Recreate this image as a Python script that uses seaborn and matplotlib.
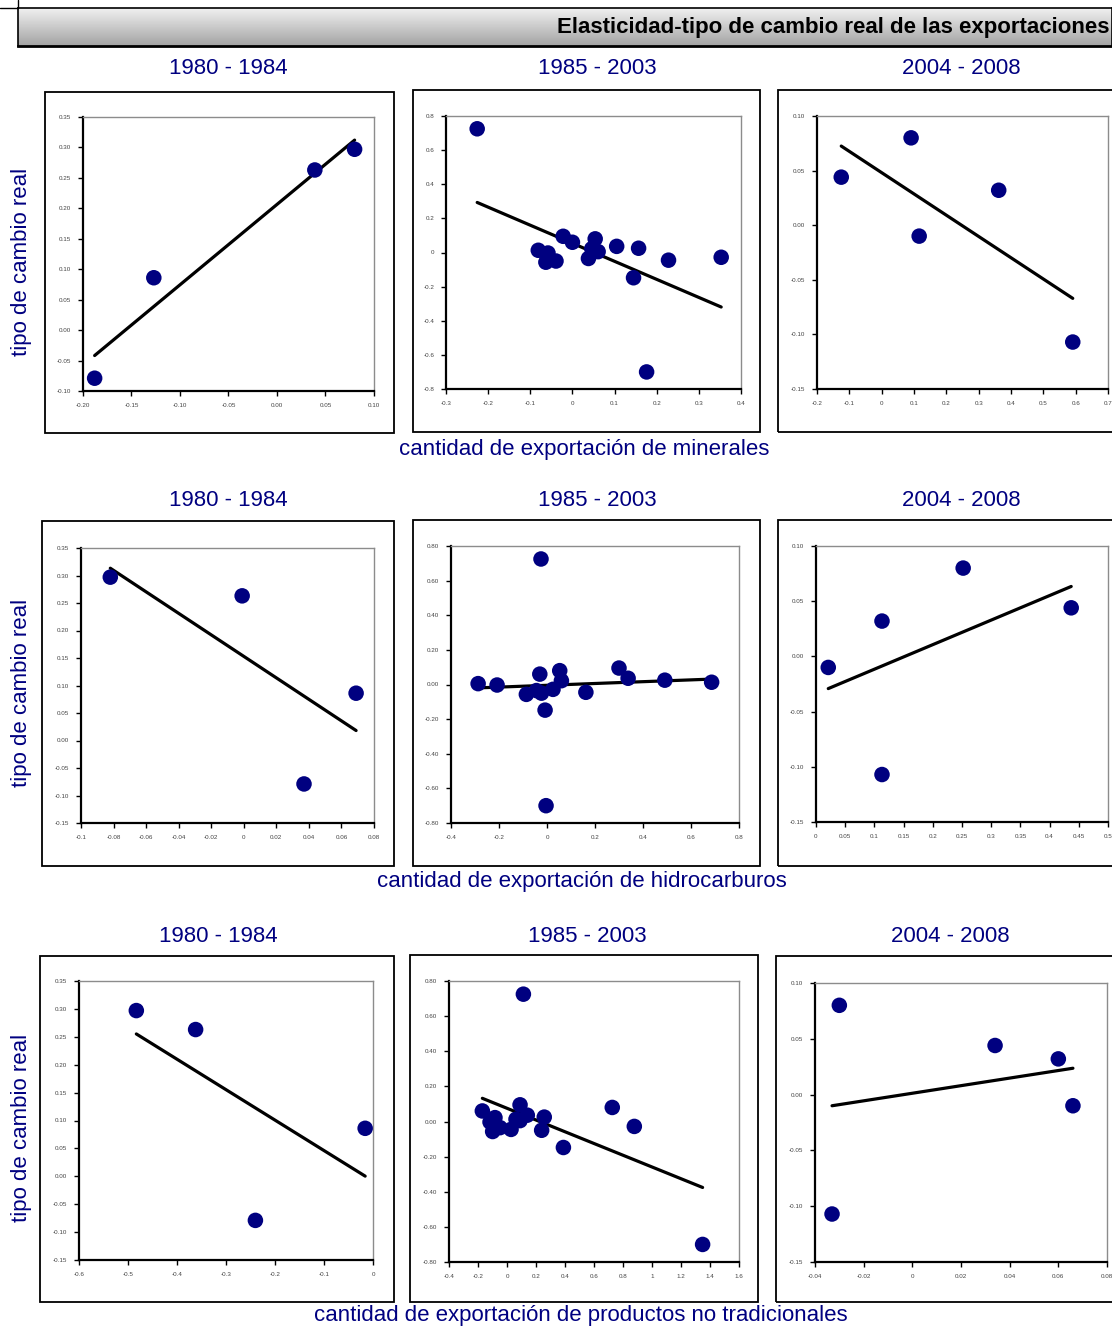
import matplotlib
matplotlib.use("Agg")
import matplotlib.pyplot as plt
import numpy as np
import pandas as pd
import seaborn as sns
from matplotlib.patches import Rectangle
from matplotlib.ticker import FuncFormatter

# tipo de cambio real (y) y cantidades exportadas (x) por periodo
tcr_8084 = [-0.079, 0.086, 0.263, 0.297]
min_8084 = [-0.188, -0.127, 0.039, 0.080]
hid_8084 = [0.037, 0.069, -0.001, -0.082]
ntr_8084 = [-0.240, -0.016, -0.362, -0.483]

tcr_8503 = [0.725, 0.095, 0.080, 0.060, 0.036, 0.025, 0.022, 0.013, 0.005, -0.003,
            -0.028, -0.035, -0.045, -0.050, -0.057, -0.148, -0.700]
min_8503 = [-0.226, -0.022, 0.054, 0.000, 0.105, 0.157, 0.046, -0.081, 0.061, -0.058,
            0.353, 0.038, 0.228, -0.039, -0.063, 0.145, 0.176]
hid_8503 = [-0.025, 0.300, 0.053, -0.030, 0.338, 0.491, 0.060, 0.686, -0.287, -0.208,
            0.025, -0.044, 0.162, -0.023, -0.086, -0.008, -0.004]
ntr_8503 = [0.113, 0.090, 0.726, -0.170, 0.140, 0.257, -0.083, 0.062, 0.090, -0.117,
            0.878, -0.048, 0.028, 0.239, -0.099, 0.389, 1.349]

tcr_0408 = [0.044, 0.080, -0.010, 0.032, -0.107]
min_0408 = [-0.125, 0.091, 0.116, 0.362, 0.591]
hid_0408 = [0.437, 0.252, 0.021, 0.113, 0.113]
ntr_0408 = [0.034, -0.030, 0.066, 0.060, -0.033]

periods = ["1980 - 1984", "1985 - 2003", "2004 - 2008"]
row_labels = [
    "cantidad de exportación de minerales",
    "cantidad de exportación de hidrocarburos",
    "cantidad de exportación de productos no tradicionales",
]
title = "Elasticidad-tipo de cambio real de las exportaciones"

W, H = 1112, 1327
NAVY = "#000080"

sns.set_theme(style="white")
plt.rcParams["font.family"] = ["Liberation Sans", "DejaVu Sans"]

fig = plt.figure(figsize=(W / 100, H / 100), dpi=100)
fig.patch.set_facecolor("white")


def box(l, t, r, b):
    return [l / W, 1 - b / H, (r - l) / W, (b - t) / H]


def fmt2(v, _):
    return f"{round(v, 6) + 0.0:.2f}".replace("-0.00", "0.00")


def fmtg(v, _):
    v = round(v, 6)
    if v == 0:
        return "0"
    return f"{v:g}"


# title bar with grey gradient
tax = fig.add_axes(box(18, 8, 1112, 46))
grad = np.linspace(0.94, 0.64, 50).reshape(-1, 1)
tax.imshow(grad, aspect="auto", cmap="gray", vmin=0, vmax=1, extent=[0, 1, 0, 1])
tax.set_xticks([])
tax.set_yticks([])
for side, sp in tax.spines.items():
    sp.set_color("black")
    sp.set_linewidth(1.2)
tax.spines["bottom"].set_linewidth(2)
tax.text(0.998, 0.5, title, ha="right", va="center", fontsize=16,
         fontweight="bold", color="black", transform=tax.transAxes)
fig.add_artist(plt.Line2D([0, 18 / W], [1 - 8 / H, 1 - 8 / H], color="black", lw=1))
fig.add_artist(plt.Line2D([18 / W, 18 / W], [1, 1 - 8 / H], color="black", lw=1))

rows = [
    [(min_8084, tcr_8084), (min_8503, tcr_8503), (min_0408, tcr_0408)],
    [(hid_8084, tcr_8084), (hid_8503, tcr_8503), (hid_0408, tcr_0408)],
    [(ntr_8084, tcr_8084), (ntr_8503, tcr_8503), (ntr_0408, tcr_0408)],
]

# inner plot boxes (l, t, r, b) and outer frames
inner = [
    [(83, 117, 374, 391), (446, 116, 741, 389), (817, 116, 1108, 389)],
    [(81, 548, 374, 823), (451, 546, 739, 823), (816, 546, 1108, 822)],
    [(79, 981, 373, 1260), (449, 981, 739, 1262), (815, 983, 1107, 1262)],
]
frames = [
    [(45, 92, 394, 433), (413, 90, 760, 432), (778, 90, 1130, 432)],
    [(42, 521, 394, 866), (413, 520, 760, 866), (778, 520, 1130, 866)],
    [(40, 956, 394, 1302), (410, 955, 758, 1302), (776, 956, 1130, 1302)],
]
# (xmin, xmax, xstep, xfmt, ymin, ymax, ystep, yfmt)
scales = [
    [(-0.20, 0.10, 0.05, fmt2, -0.10, 0.35, 0.05, fmt2),
     (-0.3, 0.4, 0.1, fmtg, -0.8, 0.8, 0.2, fmtg),
     (-0.2, 0.7, 0.1, fmtg, -0.15, 0.10, 0.05, fmt2)],
    [(-0.1, 0.08, 0.02, fmtg, -0.15, 0.35, 0.05, fmt2),
     (-0.4, 0.8, 0.2, fmtg, -0.8, 0.8, 0.2, fmt2),
     (0.0, 0.5, 0.05, fmtg, -0.15, 0.10, 0.05, fmt2)],
    [(-0.6, 0.0, 0.1, fmtg, -0.15, 0.35, 0.05, fmt2),
     (-0.4, 1.6, 0.2, fmtg, -0.8, 0.8, 0.2, fmt2),
     (-0.04, 0.08, 0.02, fmtg, -0.15, 0.10, 0.05, fmt2)],
]
title_pos = [
    [(228, 68), (597, 68), (961, 68)],
    [(228, 501), (597, 501), (961, 501)],
    [(218, 936), (587, 936), (950, 936)],
]
ylabel_y = [262, 693, 1128]
xlabel_pos = [(584, 449), (582, 881), (581, 1316)]

for i in range(3):
    for j in range(3):
        fl, ft, fr, fb = frames[i][j]
        fig.add_artist(Rectangle((fl / W, 1 - fb / H), (fr - fl) / W, (fb - ft) / H,
                                 transform=fig.transFigure, fill=False,
                                 edgecolor="black", lw=1.3, zorder=0))
        ax = fig.add_axes(box(*inner[i][j]))
        xs, ys = rows[i][j]
        df = pd.DataFrame({"x": xs, "y": ys})
        sns.regplot(data=df, x="x", y="y", ax=ax, ci=None,
                    scatter_kws={"s": 125, "color": NAVY, "edgecolor": "none", "alpha": 1, "zorder": 3},
                    line_kws={"color": "black", "lw": 2.3, "zorder": 2})
        x0, x1, xst, xf, y0, y1, yst, yf = scales[i][j]
        ax.set_xlim(x0, x1)
        ax.set_ylim(y0, y1)
        ax.set_xticks(np.round(np.arange(x0, x1 + xst / 2, xst), 6))
        ax.set_yticks(np.round(np.arange(y0, y1 + yst / 2, yst), 6))
        ax.xaxis.set_major_formatter(FuncFormatter(xf))
        ax.yaxis.set_major_formatter(FuncFormatter(yf))
        ax.tick_params(axis="both", which="major", direction="out", length=3.5, width=1,
                       color="black", labelsize=4.5, labelcolor="#444444", pad=5,
                       bottom=True, left=True)
        ax.set_xlabel("")
        ax.set_ylabel("")
        ax.spines["left"].set_color("black")
        ax.spines["bottom"].set_color("black")
        ax.spines["left"].set_linewidth(1.6)
        ax.spines["bottom"].set_linewidth(1.6)
        ax.spines["top"].set_color("#8c8c8c")
        ax.spines["right"].set_color("#8c8c8c")
        ax.spines["top"].set_linewidth(1)
        ax.spines["right"].set_linewidth(1)
        tx, ty = title_pos[i][j]
        fig.text(tx / W, 1 - ty / H, periods[j], ha="center", va="center",
                 fontsize=16, color=NAVY)
    fig.text(22 / W, 1 - ylabel_y[i] / H, "tipo de cambio real", rotation=90,
             ha="center", va="center", fontsize=16, color=NAVY)
    lx, ly = xlabel_pos[i]
    fig.text(lx / W, 1 - ly / H, row_labels[i], ha="center", va="center",
             fontsize=16, color=NAVY)

fig.savefig("out.png", dpi=100)
